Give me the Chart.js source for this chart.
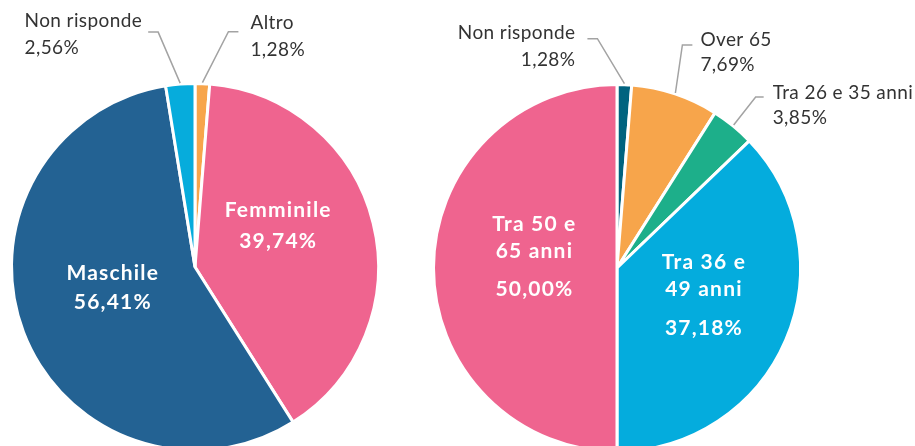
<!DOCTYPE html>
<html>
<head>
<meta charset="utf-8">
<script src="https://cdn.jsdelivr.net/npm/chart.js@4.4.1/dist/chart.umd.min.js"></script>
<style>
html, body { margin:0; padding:0; background:#fff; width:915px; height:446px; overflow:hidden; }
.wrap { position:absolute; left:0; top:0; width:915px; height:460px; }
</style>
</head>
<body>
<div class="wrap"><canvas id="genere"></canvas></div>
<div class="wrap"><canvas id="eta"></canvas></div>
<script>
// dati - genere
const genereLabels = ['Altro', 'Femminile', 'Maschile', 'Non risponde'];
const genereValues = [1.28, 39.74, 56.41, 2.56];
const genereColors = ['#f7a54b', '#ef648f', '#236293', '#06acdc'];

// dati - fasce d'eta
const etaLabels = ['Non risponde', 'Over 65', 'Tra 26 e 35 anni', 'Tra 36 e 49 anni', 'Tra 50 e 65 anni'];
const etaValues = [1.28, 7.69, 3.85, 37.18, 50.00];
const etaColors = ['#00637f', '#f7a54b', '#1daf8a', '#04acdd', '#ef648f'];

const FONT = 'Lato, "Open Sans", sans-serif';
const fmt = v => v.toFixed(2).replace('.', ',') + '%';

// come mettere le etichette (dentro / fuori con linea guida)
const genereLabelOpts = [
  {out:true, elbow:[26,-51], len:10, side:1, gap:12, ty:-9, lh:27, align:'left'},
  {f:0.45, dx:3, dy:-21, pctGap:31, lh:27},
  {f:0.45, dx:-5, dy:-9, pctGap:29, lh:27},
  {out:true, elbow:[-22,-51], len:10, side:-1, gap:6, ty:-11, lh:27, align:'block'}
];
const etaLabelOpts = [
  {out:true, elbow:[-27,-45], len:10, side:-1, gap:12, ty:-6, lh:27, align:'right'},
  {out:true, elbow:[7,-48], len:10, side:1, gap:8, ty:-5, lh:25, align:'left'},
  {out:true, elbow:[22,-28], len:8, side:1, gap:9, ty:-4, lh:25, align:'left'},
  {f:0.45, dx:11, dy:-5, pctGap:38.5, lh:27, wrap:['Tra 36 e', '49 anni']},
  {f:0.45, dx:0, dy:-11.5, pctGap:38.5, lh:27, wrap:['Tra 50 e', '65 anni']}
];

const pieLabels = {
  id: 'pieLabels',
  afterDatasetsDraw(chart, args, opts) {
    const ctx = chart.ctx;
    const meta = chart.getDatasetMeta(0);
    const ds = chart.data.datasets[0];
    ctx.save();
    ctx.textBaseline = 'middle';
    meta.data.forEach((arc, i) => {
      const o = opts.place[i];
      const mid = (arc.startAngle + arc.endAngle) / 2;
      const R = arc.outerRadius;
      const cx = Math.cos(mid), cy = Math.sin(mid);
      const name = chart.data.labels[i];
      const pct = fmt(ds.data[i]);
      if (o.out) {
        const sx = arc.x + cx * (R + 1), sy = arc.y + cy * (R + 1);
        const ex = sx + o.elbow[0], ey = sy + o.elbow[1];
        const endX = ex + o.side * o.len;
        ctx.strokeStyle = '#a3a3a3';
        ctx.lineWidth = 1.5;
        ctx.beginPath();
        ctx.moveTo(sx, sy); ctx.lineTo(ex, ey); ctx.lineTo(endX, ey);
        ctx.stroke();
        ctx.font = '19px ' + FONT;
        ctx.letterSpacing = '0.4px';
        ctx.fillStyle = '#333333';
        const y1 = ey + o.ty, y2 = y1 + o.lh;
        if (o.align === 'left') {
          ctx.textAlign = 'left';
          ctx.fillText(name, endX + o.gap, y1);
          ctx.fillText(pct, endX + o.gap, y2);
        } else if (o.align === 'right') {
          ctx.textAlign = 'right';
          ctx.fillText(name, endX - o.gap, y1);
          ctx.fillText(pct, endX - o.gap, y2);
        } else {
          const w = Math.max(ctx.measureText(name).width, ctx.measureText(pct).width);
          ctx.textAlign = 'left';
          ctx.fillText(name, endX - o.gap - w, y1);
          ctx.fillText(pct, endX - o.gap - w, y2);
        }
      } else {
        const lines = o.wrap || [name];
        const h = (lines.length - 1) * o.lh + o.pctGap;
        const px = arc.x + cx * R * o.f + o.dx;
        const py = arc.y + cy * R * o.f + o.dy;
        let y = py - h / 2;
        ctx.font = 'bold 21px ' + FONT;
        ctx.letterSpacing = '1.2px';
        ctx.fillStyle = '#ffffff';
        ctx.textAlign = 'center';
        lines.forEach((l, k) => ctx.fillText(l, px, y + k * o.lh));
        ctx.fillText(pct, px, y + (lines.length - 1) * o.lh + o.pctGap);
      }
    });
    ctx.restore();
  }
};

function makePie(id, labels, values, colors, place, pad) {
  return new Chart(document.getElementById(id), {
    type: 'pie',
    data: {
      labels: labels,
      datasets: [{ data: values, backgroundColor: colors, borderColor: '#ffffff', borderWidth: 3 }]
    },
    options: {
      responsive: true,
      maintainAspectRatio: false,
      animation: false,
      layout: { padding: pad },
      plugins: {
        legend: { display: false },
        tooltip: { enabled: false },
        pieLabels: { place: place }
      }
    },
    plugins: [pieLabels]
  });
}

makePie('genere', genereLabels, genereValues, genereColors, genereLabelOpts,
  {left:10, right:535, top:82, bottom:8});
makePie('eta', etaLabels, etaValues, etaColors, etaLabelOpts,
  {left:432, right:113, top:83, bottom:7});
</script>
</body>
</html>
